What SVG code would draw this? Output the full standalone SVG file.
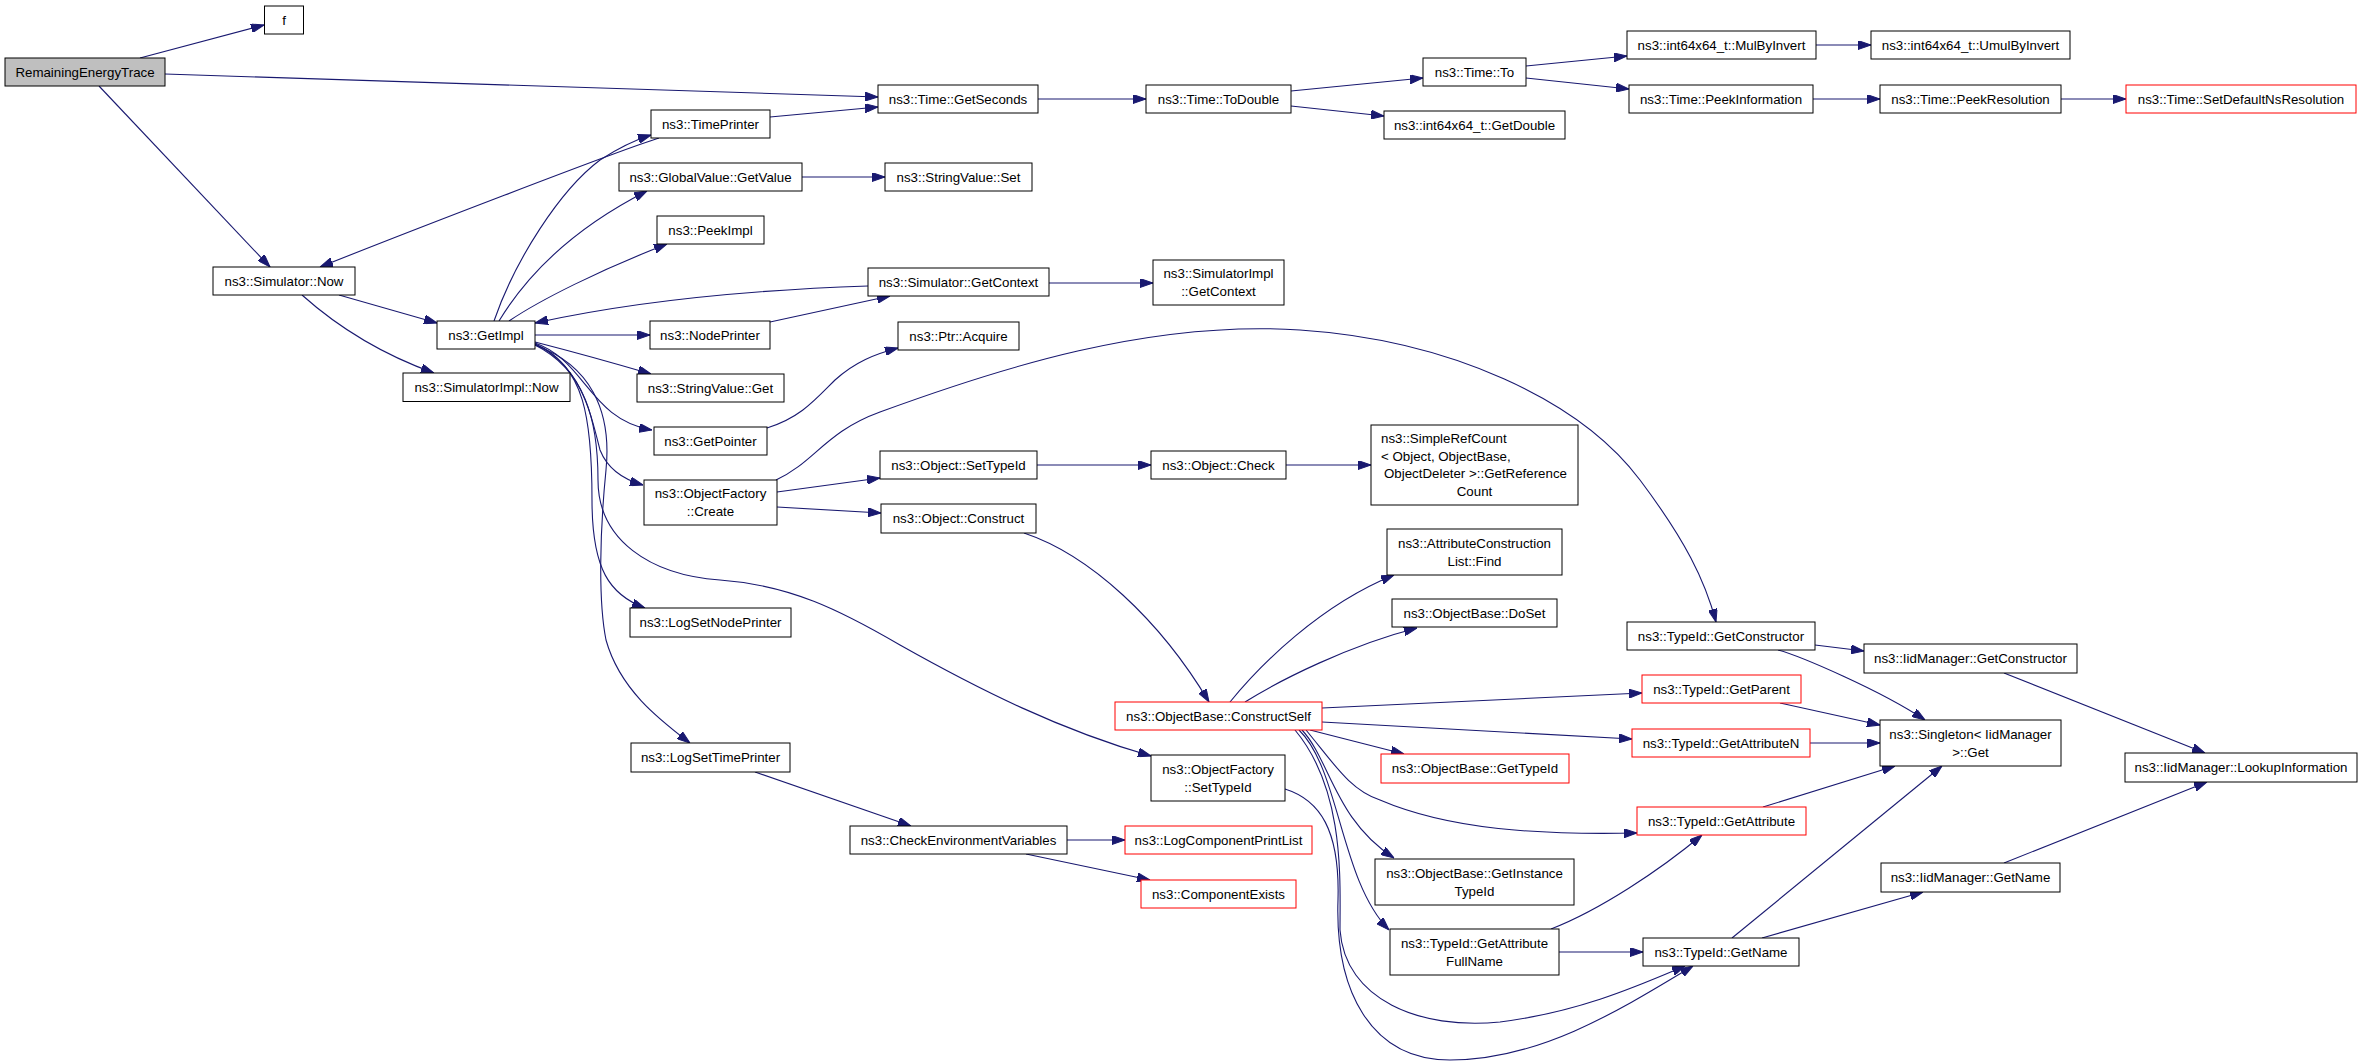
<svg xmlns="http://www.w3.org/2000/svg" width="2363" height="1064" viewBox="0 0 2363 1064">
<style>
rect{fill:#fff;stroke:#000;stroke-width:1}
rect.red{stroke:#ff0000}
rect.root{fill:#bfbfbf}
text{font-family:"Liberation Sans",Arial,Helvetica,sans-serif;font-size:13.3px;fill:#000;text-anchor:middle}
text.l{text-anchor:start}
.edge{fill:none;stroke:#191970;stroke-width:1.1;marker-end:url(#arr)}
</style>
<defs>
<marker id="arr" markerUnits="userSpaceOnUse" viewBox="0 0 13 9" refX="13" refY="4.5" markerWidth="13" markerHeight="9" orient="auto">
<path d="M0,0 L13,4.5 L0,9 z" fill="#191970" stroke="#191970" stroke-width="1"/>
</marker>
</defs>
<rect x="0" y="0" width="2363" height="1064" style="fill:#fff;stroke:none"/>
<g id="edges">
<path class="edge" d="M140,58 L264,25"/>
<path class="edge" d="M165,74 L878,97"/>
<path class="edge" d="M99,86 L270,267"/>
<path class="edge" d="M659,138 C620,150 400,235 320,267"/>
<path class="edge" d="M770,117 L878,107"/>
<path class="edge" d="M1038,99 L1146,99"/>
<path class="edge" d="M1291,91 L1423,78"/>
<path class="edge" d="M1291,106 L1384,116"/>
<path class="edge" d="M1526,66 L1627,56"/>
<path class="edge" d="M1526,78 L1629,89"/>
<path class="edge" d="M1816,45 L1871,45"/>
<path class="edge" d="M1813,99 L1880,99"/>
<path class="edge" d="M2061,99 L2126,99"/>
<path class="edge" d="M339,295 L437,323"/>
<path class="edge" d="M302,295 C330,320 370,350 434,373"/>
<path class="edge" d="M494,321 C515,260 560,190 600,160 C620,147 635,140 651,135"/>
<path class="edge" d="M499,321 C530,270 580,225 647,191"/>
<path class="edge" d="M509,321 C540,300 600,270 667,244"/>
<path class="edge" d="M802,177 L885,177"/>
<path class="edge" d="M868,286 C750,290 640,300 535,323"/>
<path class="edge" d="M1049,283 L1153,283"/>
<path class="edge" d="M770,322 L890,296"/>
<path class="edge" d="M535,335 L650,335"/>
<path class="edge" d="M535,342 C570,351 610,362 651,374"/>
<path class="edge" d="M535,343 C585,360 590,420 652,430"/>
<path class="edge" d="M767,428 C800,418 815,400 835,380 C855,362 875,354 898,348"/>
<path class="edge" d="M535,344 C580,365 590,410 600,450 C608,470 625,480 643,485"/>
<path class="edge" d="M776,480 C815,462 825,432 880,412 C1000,368 1150,320 1300,330 C1450,340 1580,400 1640,480 C1685,540 1705,580 1716,622"/>
<path class="edge" d="M777,492 L880,478"/>
<path class="edge" d="M777,507 L881,513"/>
<path class="edge" d="M1037,465 L1151,465"/>
<path class="edge" d="M1286,465 L1371,465"/>
<path class="edge" d="M1024,533 C1090,555 1160,620 1209,702"/>
<path class="edge" d="M535,344 C585,365 592,420 592,500 C592,570 610,595 645,608"/>
<path class="edge" d="M535,345 C590,365 612,410 606,470 C600,530 598,600 606,640 C620,690 660,720 690,743"/>
<path class="edge" d="M535,345 C585,370 598,420 598,480 C598,540 650,575 720,580 C790,585 840,610 900,645 C980,690 1060,730 1151,756"/>
<path class="edge" d="M755,772 L911,826"/>
<path class="edge" d="M1067,840 L1125,840"/>
<path class="edge" d="M1026,854 L1150,880"/>
<path class="edge" d="M1230,702 C1260,665 1320,605 1394,575"/>
<path class="edge" d="M1245,702 C1280,680 1350,645 1417,628"/>
<path class="edge" d="M1322,708 L1642,693"/>
<path class="edge" d="M1322,722 L1632,739"/>
<path class="edge" d="M1310,730 L1404,754"/>
<path class="edge" d="M1306,730 C1335,765 1350,790 1380,800 C1450,830 1540,835 1637,833"/>
<path class="edge" d="M1302,730 C1330,760 1335,820 1394,858"/>
<path class="edge" d="M1299,730 C1340,770 1340,880 1389,930"/>
<path class="edge" d="M1295,730 C1345,790 1340,880 1340,930 C1345,1000 1420,1030 1500,1022 C1580,1012 1640,985 1685,966"/>
<path class="edge" d="M1285,789 C1320,800 1340,830 1338,900 C1335,990 1370,1060 1450,1060 C1540,1060 1620,1010 1693,966"/>
<path class="edge" d="M1551,929 C1600,910 1660,870 1702,835"/>
<path class="edge" d="M1559,952 L1643,952"/>
<path class="edge" d="M1815,645 L1864,651"/>
<path class="edge" d="M1778,650 C1800,656 1880,690 1925,720"/>
<path class="edge" d="M2004,673 L2205,753"/>
<path class="edge" d="M1780,703 L1880,725"/>
<path class="edge" d="M1810,743 L1880,743"/>
<path class="edge" d="M1763,807 L1895,766"/>
<path class="edge" d="M1732,938 L1942,766"/>
<path class="edge" d="M1762,938 L1923,892"/>
<path class="edge" d="M2004,863 L2207,782"/>
</g>
<g id="n-RemainingEnergyTrace"><rect class="root" x="5" y="58" width="160" height="28"/><text x="85" y="76.5">RemainingEnergyTrace</text></g>
<g id="n-f"><rect x="264.5" y="6" width="39" height="28"/><text x="284" y="24.5">f</text></g>
<g id="n-SimulatorNow"><rect x="213" y="267" width="142" height="28"/><text x="284" y="285.5">ns3::Simulator::Now</text></g>
<g id="n-GetImpl"><rect x="437" y="321" width="98" height="28"/><text x="486" y="339.5">ns3::GetImpl</text></g>
<g id="n-SimulatorImplNow"><rect x="403" y="373" width="167" height="28.5"/><text x="486.5" y="391.5">ns3::SimulatorImpl::Now</text></g>
<g id="n-TimePrinter"><rect x="651" y="110" width="119" height="28"/><text x="710.5" y="128.5">ns3::TimePrinter</text></g>
<g id="n-GlobalValueGetValue"><rect x="619" y="163" width="183" height="28"/><text x="710.5" y="181.5">ns3::GlobalValue::GetValue</text></g>
<g id="n-PeekImpl"><rect x="657" y="216" width="107" height="28"/><text x="710.5" y="234.5">ns3::PeekImpl</text></g>
<g id="n-NodePrinter"><rect x="650" y="321" width="120" height="28"/><text x="710" y="339.5">ns3::NodePrinter</text></g>
<g id="n-StringValueGet"><rect x="637" y="374" width="147" height="28"/><text x="710.5" y="392.5">ns3::StringValue::Get</text></g>
<g id="n-GetPointer"><rect x="654" y="427" width="113" height="28"/><text x="710.5" y="445.5">ns3::GetPointer</text></g>
<g id="n-ObjectFactoryCreate"><rect x="644" y="480" width="133" height="45"/><text x="710.5" y="498">ns3::ObjectFactory</text><text x="710.5" y="516">::Create</text></g>
<g id="n-LogSetNodePrinter"><rect x="630" y="608" width="161" height="29"/><text x="710.5" y="627">ns3::LogSetNodePrinter</text></g>
<g id="n-LogSetTimePrinter"><rect x="631" y="743" width="159" height="29"/><text x="710.5" y="762">ns3::LogSetTimePrinter</text></g>
<g id="n-TimeGetSeconds"><rect x="878" y="85" width="160" height="28"/><text x="958" y="103.5">ns3::Time::GetSeconds</text></g>
<g id="n-StringValueSet"><rect x="885" y="163" width="147" height="28"/><text x="958.5" y="181.5">ns3::StringValue::Set</text></g>
<g id="n-SimulatorGetContext"><rect x="868" y="268" width="181" height="28"/><text x="958.5" y="286.5">ns3::Simulator::GetContext</text></g>
<g id="n-PtrAcquire"><rect x="898" y="322" width="121" height="28"/><text x="958.5" y="340.5">ns3::Ptr::Acquire</text></g>
<g id="n-ObjectSetTypeId"><rect x="880" y="451" width="157" height="28"/><text x="958.5" y="469.5">ns3::Object::SetTypeId</text></g>
<g id="n-ObjectConstruct"><rect x="881" y="504" width="155" height="29"/><text x="958.5" y="523">ns3::Object::Construct</text></g>
<g id="n-CheckEnvironmentVariables"><rect x="850" y="826" width="217" height="28"/><text x="958.5" y="844.5">ns3::CheckEnvironmentVariables</text></g>
<g id="n-TimeToDouble"><rect x="1146" y="85" width="145" height="28"/><text x="1218.5" y="103.5">ns3::Time::ToDouble</text></g>
<g id="n-SimulatorImplGetContext"><rect x="1153" y="260" width="131" height="45"/><text x="1218.5" y="278">ns3::SimulatorImpl</text><text x="1218.5" y="296">::GetContext</text></g>
<g id="n-ObjectCheck"><rect x="1151" y="451" width="135" height="28"/><text x="1218.5" y="469.5">ns3::Object::Check</text></g>
<g id="n-ObjectBaseConstructSelf"><rect class="red" x="1115" y="702" width="207" height="28"/><text x="1218.5" y="720.5">ns3::ObjectBase::ConstructSelf</text></g>
<g id="n-ObjectFactorySetTypeId"><rect x="1151" y="755" width="134" height="46"/><text x="1218" y="773.5">ns3::ObjectFactory</text><text x="1218" y="791.5">::SetTypeId</text></g>
<g id="n-LogComponentPrintList"><rect class="red" x="1125" y="826" width="187" height="28"/><text x="1218.5" y="844.5">ns3::LogComponentPrintList</text></g>
<g id="n-ComponentExists"><rect class="red" x="1141" y="880" width="155" height="28"/><text x="1218.5" y="898.5">ns3::ComponentExists</text></g>
<g id="n-TimeTo"><rect x="1423" y="58" width="103" height="28"/><text x="1474.5" y="76.5">ns3::Time::To</text></g>
<g id="n-GetDouble"><rect x="1384" y="111" width="181" height="28"/><text x="1474.5" y="129.5">ns3::int64x64_t::GetDouble</text></g>
<g id="n-SimpleRefCount"><rect x="1371" y="425" width="207" height="80"/><text class="l" x="1381" y="443">ns3::SimpleRefCount</text><text class="l" x="1381" y="460.5">&lt; Object, ObjectBase,</text><text class="l" x="1384" y="478">ObjectDeleter &gt;::GetReference</text><text x="1474.5" y="495.5">Count</text></g>
<g id="n-AttributeConstructionListFind"><rect x="1387" y="529" width="175" height="46"/><text x="1474.5" y="547.5">ns3::AttributeConstruction</text><text x="1474.5" y="565.5">List::Find</text></g>
<g id="n-ObjectBaseDoSet"><rect x="1392" y="599" width="165" height="28"/><text x="1474.5" y="617.5">ns3::ObjectBase::DoSet</text></g>
<g id="n-ObjectBaseGetTypeId"><rect class="red" x="1381" y="754" width="188" height="29"/><text x="1475" y="773">ns3::ObjectBase::GetTypeId</text></g>
<g id="n-ObjectBaseGetInstanceTypeId"><rect x="1375" y="859" width="199" height="46"/><text x="1474.5" y="877.5">ns3::ObjectBase::GetInstance</text><text x="1474.5" y="895.5">TypeId</text></g>
<g id="n-TypeIdGetAttributeFullName"><rect x="1390" y="929" width="169" height="46"/><text x="1474.5" y="947.5">ns3::TypeId::GetAttribute</text><text x="1474.5" y="965.5">FullName</text></g>
<g id="n-MulByInvert"><rect x="1627" y="31" width="189" height="28"/><text x="1721.5" y="49.5">ns3::int64x64_t::MulByInvert</text></g>
<g id="n-TimePeekInformation"><rect x="1629" y="85" width="184" height="28"/><text x="1721" y="103.5">ns3::Time::PeekInformation</text></g>
<g id="n-TypeIdGetConstructor"><rect x="1627" y="622" width="188" height="28"/><text x="1721" y="640.5">ns3::TypeId::GetConstructor</text></g>
<g id="n-TypeIdGetParent"><rect class="red" x="1642" y="675" width="159" height="28"/><text x="1721.5" y="693.5">ns3::TypeId::GetParent</text></g>
<g id="n-TypeIdGetAttributeN"><rect class="red" x="1632" y="729" width="178" height="28"/><text x="1721" y="747.5">ns3::TypeId::GetAttributeN</text></g>
<g id="n-TypeIdGetAttribute"><rect class="red" x="1637" y="807" width="169" height="28"/><text x="1721.5" y="825.5">ns3::TypeId::GetAttribute</text></g>
<g id="n-TypeIdGetName"><rect x="1643" y="938" width="156" height="28"/><text x="1721" y="956.5">ns3::TypeId::GetName</text></g>
<g id="n-UmulByInvert"><rect x="1871" y="31" width="199" height="28"/><text x="1970.5" y="49.5">ns3::int64x64_t::UmulByInvert</text></g>
<g id="n-TimePeekResolution"><rect x="1880" y="85" width="181" height="28"/><text x="1970.5" y="103.5">ns3::Time::PeekResolution</text></g>
<g id="n-IidManagerGetConstructor"><rect x="1864" y="644" width="213" height="29"/><text x="1970.5" y="663">ns3::IidManager::GetConstructor</text></g>
<g id="n-SingletonGet"><rect x="1880" y="720" width="181" height="46"/><text x="1970.5" y="738.5">ns3::Singleton&lt; IidManager</text><text x="1970.5" y="756.5">&gt;::Get</text></g>
<g id="n-IidManagerGetName"><rect x="1881" y="863" width="179" height="29"/><text x="1970.5" y="882">ns3::IidManager::GetName</text></g>
<g id="n-SetDefaultNsResolution"><rect class="red" x="2126" y="85" width="230" height="28"/><text x="2241" y="103.5">ns3::Time::SetDefaultNsResolution</text></g>
<g id="n-IidManagerLookupInformation"><rect x="2125" y="753" width="232" height="29"/><text x="2241" y="772">ns3::IidManager::LookupInformation</text></g>
</svg>
